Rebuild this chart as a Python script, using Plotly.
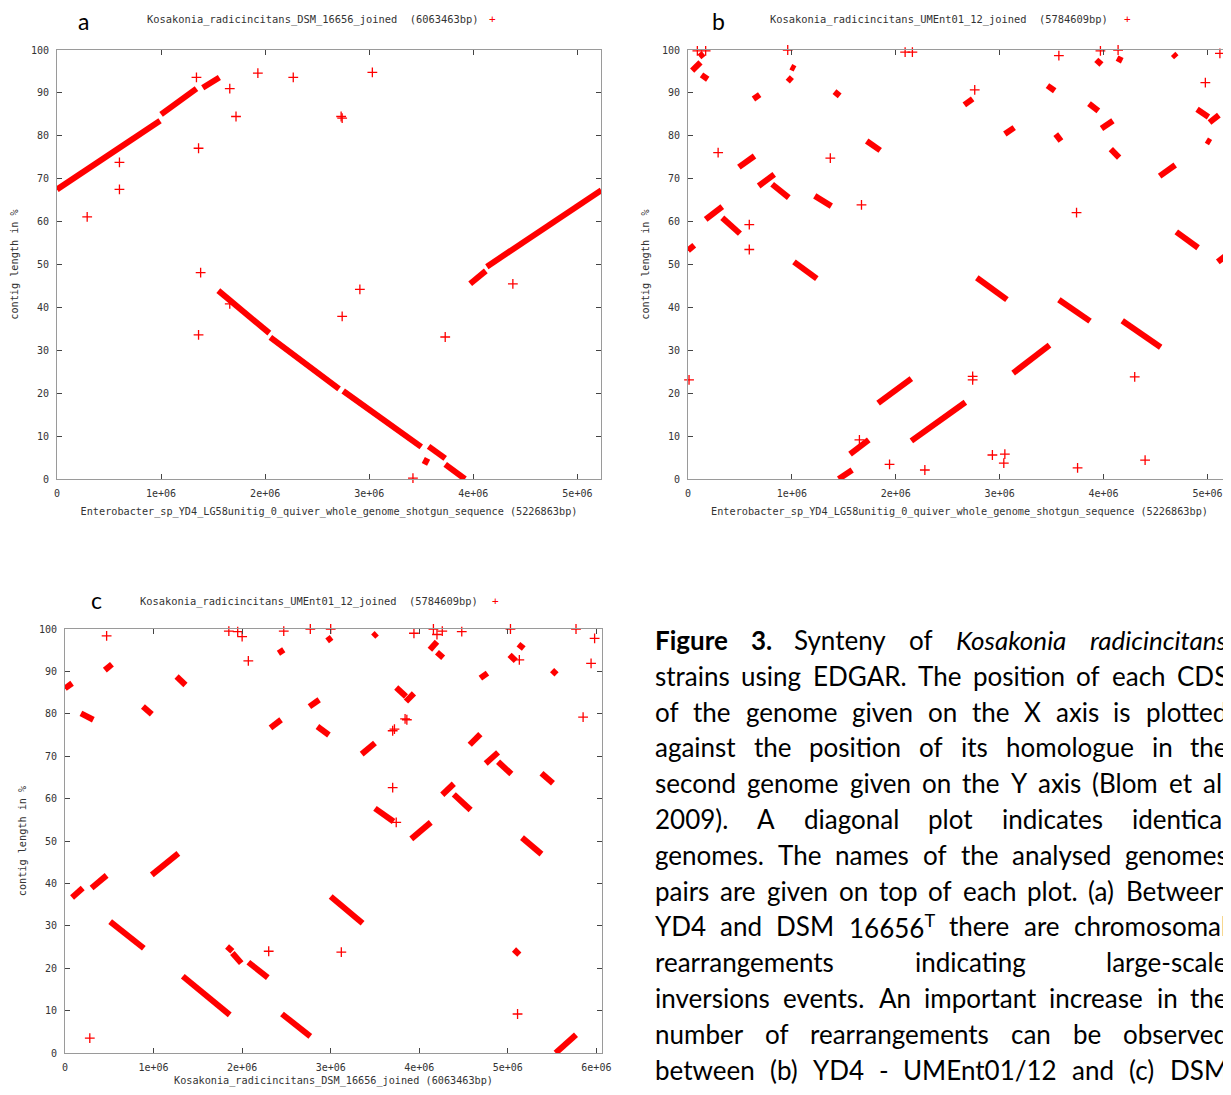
import os
import glob
import struct
import plotly.graph_objects as go

# The page body has an 8px margin, so the figure is drawn 8px in from the corner.
OFF = 8
W_REF, H_REF = 1231, 1095
W, H = W_REF - OFF, H_REF - 2 * OFF
MB = 1e6

# ---------------- DATA ----------------
x_tick_vals_ab = [0, 1e6, 2e6, 3e6, 4e6, 5e6]
x_tick_text_ab = ["0", "1e+06", "2e+06", "3e+06", "4e+06", "5e+06"]
x_tick_vals_c = [0, 1e6, 2e6, 3e6, 4e6, 5e6, 6e6]
x_tick_text_c = ["0", "1e+06", "2e+06", "3e+06", "4e+06", "5e+06", "6e+06"]
y_tick_vals = [0, 10, 20, 30, 40, 50, 60, 70, 80, 90, 100]

genome_yd4_len = 5226863
genome_dsm_len = 6063463
genome_um_len = 5784609

# Panel a: syntenic runs (x in Mbp, y in % of contig length)
a_seg_x0 = [0.00, 1.00, 1.40, 1.55, 2.05, 2.75, 3.57, 3.53, 3.73, 3.97, 4.13]
a_seg_y0 = [67.5, 85.0, 91.2, 43.9, 33.0, 20.5, 7.6, 3.4, 3.4, 45.5, 49.5]
a_seg_x1 = [0.99, 1.34, 1.56, 2.04, 2.71, 3.50, 3.73, 3.56, 3.92, 4.12, 5.23]
a_seg_y1 = [83.5, 91.0, 93.6, 34.0, 21.0, 7.5, 4.8, 4.8, 0.0, 48.5, 67.3]
# Panel a: isolated homologues
a_pt_x = [1.34, 1.66, 1.93, 2.27, 3.03, 1.72, 2.73, 2.74, 1.36, 0.60, 0.60, 0.29,
          1.38, 4.38, 2.91, 2.74, 1.36, 3.73, 3.42, 1.66]
a_pt_y = [93.6, 91.0, 94.6, 93.6, 94.8, 84.5, 84.5, 84.1, 77.1, 73.8, 67.5, 61.1,
          48.1, 45.5, 44.2, 37.9, 33.6, 33.1, 0.2, 40.8]

# Panel b
b_seg_x0 = [0.04, 0.11, 0.13, 0.63, 0.96, 0.99, 1.41, 2.66, 3.46, 3.05, 3.86, 3.98, 3.54,
            3.93, 4.13, 4.67, 4.90, 5.02, 4.99, 4.07, 4.54, 1.72, 0.49, 0.68, 0.81, 1.22,
            0.17, 0.33, 0.00, 1.02, 4.70, 5.10, 2.78, 3.57, 4.18, 3.13, 1.83, 2.15, 1.56, 1.45]
b_seg_y0 = [95.2, 98.4, 94.2, 88.6, 93.6, 96.1, 90.3, 87.2, 91.7, 80.4, 87.5, 81.7, 80.4,
            97.7, 98.1, 99.1, 86.2, 83.1, 79.0, 76.9, 70.6, 78.8, 72.7, 68.3, 68.7, 66.0,
            60.5, 60.9, 53.3, 50.6, 57.6, 50.6, 46.9, 41.8, 36.9, 24.7, 17.7, 8.9, 5.8, 0.0]
b_seg_x1 = [0.12, 0.15, 0.19, 0.69, 1.00, 1.03, 1.46, 2.74, 3.53, 3.14, 3.95, 4.09, 3.59,
            3.98, 4.18, 4.70, 5.01, 5.11, 5.03, 4.15, 4.69, 1.85, 0.64, 0.83, 0.97, 1.38,
            0.33, 0.50, 0.06, 1.24, 4.91, 5.23, 3.07, 3.87, 4.55, 3.48, 2.15, 2.67, 1.74, 1.58]
b_seg_y1 = [97.1, 99.2, 93.2, 89.6, 92.7, 95.6, 89.3, 88.6, 90.5, 81.9, 85.8, 83.5, 78.8,
            96.6, 97.5, 98.3, 84.4, 84.8, 78.4, 74.9, 73.2, 76.6, 75.3, 71.0, 65.6, 63.6,
            63.5, 57.2, 54.5, 46.7, 53.9, 53.1, 41.8, 36.8, 30.7, 31.2, 23.4, 17.9, 9.1, 2.1]
b_pt_x = [0.01, 0.29, 0.59, 0.59, 1.37, 1.67, 0.96, 2.09, 2.16, 2.76, 3.57, 3.97, 4.14,
          5.12, 4.98, 3.74, 4.30, 2.74, 2.74, 1.94, 2.28, 2.93, 3.05, 3.04, 3.75, 4.40,
          0.09, 0.17, 1.65]
b_pt_y = [23.1, 76.1, 59.3, 53.5, 74.8, 63.9, 100.0, 99.5, 99.5, 90.7, 98.7, 99.8, 100.0,
          99.2, 92.4, 62.1, 23.8, 23.9, 23.1, 3.4, 2.1, 5.6, 5.8, 3.7, 2.6, 4.4,
          99.8, 99.8, 9.1]

# Panel c
c_seg_x0 = [0.00, 0.45, 0.18, 0.88, 1.26, 2.41, 2.96, 3.48, 2.32, 2.76, 2.85, 3.35, 3.74,
            3.85, 4.12, 4.20, 4.69, 5.02, 5.12, 5.50, 4.57, 4.75, 4.89, 5.38, 4.26, 4.39,
            3.50, 3.91, 5.16, 0.98, 0.08, 0.30, 3.00, 0.51, 1.83, 1.89, 2.07, 5.07, 1.33,
            2.45, 5.54]
c_seg_y0 = [86.0, 90.3, 80.1, 81.7, 88.8, 94.3, 97.2, 98.2, 76.7, 81.7, 77.0, 70.5, 86.2,
            82.9, 95.1, 94.5, 88.4, 93.9, 96.4, 90.3, 72.7, 68.3, 68.7, 66.0, 60.9, 61.0,
            57.7, 50.5, 50.8, 42.0, 36.7, 38.9, 36.9, 31.0, 25.1, 23.6, 21.4, 24.4, 18.1,
            9.2, 0.0]
c_seg_x1 = [0.08, 0.53, 0.32, 0.98, 1.36, 2.47, 3.01, 3.52, 2.44, 2.87, 2.98, 3.50, 3.85,
            3.94, 4.20, 4.27, 4.77, 5.09, 5.18, 5.55, 4.69, 4.89, 5.04, 5.51, 4.39, 4.58,
            3.71, 4.13, 5.38, 1.28, 0.20, 0.47, 3.36, 0.89, 1.89, 1.99, 2.29, 5.13, 1.86,
            2.77, 5.77]
c_seg_y1 = [87.2, 91.7, 78.6, 79.9, 86.8, 95.1, 98.0, 99.0, 78.6, 83.3, 75.0, 73.1, 84.1,
            84.8, 97.0, 93.2, 89.6, 92.5, 95.4, 89.3, 75.2, 70.9, 65.8, 63.6, 63.5, 57.3,
            54.6, 54.4, 46.9, 47.1, 38.9, 41.9, 30.6, 24.7, 24.0, 21.2, 17.8, 23.2, 9.0,
            3.9, 4.3]
c_pt_x = [0.28, 0.47, 1.85, 1.95, 2.00, 2.07, 2.47, 2.77, 3.00, 3.94, 4.16, 4.26, 4.48,
          5.03, 5.77, 5.98, 5.94, 5.13, 5.85, 2.30, 3.12, 5.11, 3.84, 3.70, 3.70, 3.74,
          4.20, 3.86, 3.72]
c_pt_y = [3.5, 98.4, 99.5, 99.4, 98.2, 92.5, 99.5, 100.0, 100.0, 99.0, 100.0, 99.5, 99.4,
          100.0, 100.0, 97.8, 91.9, 92.7, 79.2, 24.0, 23.8, 9.2, 78.8, 76.0, 62.6, 54.4,
          98.7, 78.6, 76.4]

panel_letters = ["a", "b", "c"]
legend_names = [
    "Kosakonia_radicincitans_DSM_16656_joined  (6063463bp)",
    "Kosakonia_radicincitans_UMEnt01_12_joined  (5784609bp)",
    "Kosakonia_radicincitans_UMEnt01_12_joined  (5784609bp)",
]
x_titles = [
    "Enterobacter_sp_YD4_LG58unitig_0_quiver_whole_genome_shotgun_sequence (5226863bp)",
    "Enterobacter_sp_YD4_LG58unitig_0_quiver_whole_genome_shotgun_sequence (5226863bp)",
    "Kosakonia_radicincitans_DSM_16656_joined (6063463bp)",
]
y_title = "contig length in %"

caption_lines = [
    "<b>Figure</b> <b>3.</b> Synteny of <i>Kosakonia</i> <i>radicincitans</i>",
    "strains using EDGAR. The position of each CDS",
    "of the genome given on the X axis is plotted",
    "against the position of its homologue in the",
    "second genome given on the Y axis (Blom et al.",
    "2009). A diagonal plot indicates identical",
    "genomes. The names of the analysed genomes",
    "pairs are given on top of each plot. (a) Between",
    "YD4 and DSM 16656<sup>T</sup> there are chromosomal",
    "rearrangements indicating large-scale",
    "inversions events. An important increase in the",
    "number of rearrangements can be observed",
    "between (b) YD4 - UMEnt01/12 and (c) DSM",
]

# ---------------- font metrics for justified caption ----------------
FONT_ROOTS = ["/usr/share/fonts", "/usr/local/share/fonts",
              os.path.expanduser("~/.fonts"), os.path.expanduser("~/.local/share/fonts")]


def find_font(fname):
    for r in FONT_ROOTS:
        if os.path.isdir(r):
            hits = glob.glob(os.path.join(r, "**", fname), recursive=True)
            if hits:
                return hits[0]
    return None


def ttf_width_fn(path):
    with open(path, "rb") as f:
        data = f.read()
    base = struct.unpack(">I", data[12:16])[0] if data[:4] == b"ttcf" else 0
    num = struct.unpack(">H", data[base + 4:base + 6])[0]
    tabs = {}
    for i in range(num):
        rec = base + 12 + 16 * i
        tag = data[rec:rec + 4].decode("latin1")
        tabs[tag] = struct.unpack(">I", data[rec + 8:rec + 12])[0]
    upem = struct.unpack(">H", data[tabs["head"] + 18:tabs["head"] + 20])[0]
    nhm = struct.unpack(">H", data[tabs["hhea"] + 34:tabs["hhea"] + 36])[0]
    hm = tabs["hmtx"]
    adv = [struct.unpack(">H", data[hm + 4 * i:hm + 4 * i + 2])[0] for i in range(nhm)]
    cm = tabs["cmap"]
    nsub = struct.unpack(">H", data[cm + 2:cm + 4])[0]
    sub = None
    for i in range(nsub):
        pid, eid, so = struct.unpack(">HHI", data[cm + 4 + 8 * i:cm + 12 + 8 * i])
        fmt = struct.unpack(">H", data[cm + so:cm + so + 2])[0]
        if fmt == 4:
            sub = cm + so
            break
    segx2 = struct.unpack(">H", data[sub + 6:sub + 8])[0]
    seg = segx2 // 2
    ends = struct.unpack(">%dH" % seg, data[sub + 14:sub + 14 + segx2])
    starts = struct.unpack(">%dH" % seg, data[sub + 16 + segx2:sub + 16 + 2 * segx2])
    deltas = struct.unpack(">%dh" % seg, data[sub + 16 + 2 * segx2:sub + 16 + 3 * segx2])
    rpos = sub + 16 + 3 * segx2
    roffs = struct.unpack(">%dH" % seg, data[rpos:rpos + segx2])

    def gid(ch):
        c = ord(ch)
        for k in range(seg):
            if starts[k] <= c <= ends[k]:
                if roffs[k] == 0:
                    return (c + deltas[k]) & 0xFFFF
                addr = rpos + 2 * k + roffs[k] + 2 * (c - starts[k])
                g = struct.unpack(">H", data[addr:addr + 2])[0]
                return (g + deltas[k]) & 0xFFFF if g else 0
        return 0

    def width(s):
        return sum(adv[min(gid(ch), nhm - 1)] for ch in s) / upem

    return width


def fallback_width(s):
    return 0.5 * len(s)


CAPTION_FONT = "Lato"
width_fns = {}
for style, fname in [("", "Lato-Regular.ttf"), ("b", "Lato-Bold.ttf"), ("i", "Lato-Italic.ttf")]:
    fn = fallback_width
    p = find_font(fname)
    if p:
        try:
            fn = ttf_width_fn(p)
            fn("abc")
        except Exception:
            fn = fallback_width
    width_fns[style] = fn


def word_em(w):
    if w.startswith("<b>"):
        return width_fns["b"](w[3:-4])
    if w.startswith("<i>"):
        return width_fns["i"](w[3:-4])
    if "<sup>" in w:
        b, s = w.split("<sup>")
        return width_fns[""](b) + 0.7 * width_fns[""](s.replace("</sup>", ""))
    return width_fns[""](w)


# ---------------- helpers ----------------
MONO = "DejaVu Sans Mono"
RED = "#ff0000"


def px_x(px):
    return (px - OFF) / W


def px_y(py):
    return 1 - (py - OFF) / H


def seg_xy(x0, y0, x1, y1):
    xs, ys = [], []
    for a, b, c, d in zip(x0, y0, x1, y1):
        xs += [a * MB, c * MB, None]
        ys += [b, d, None]
    return xs, ys


fig = go.Figure()

panels = [
    ("x", "y", a_seg_x0, a_seg_y0, a_seg_x1, a_seg_y1, a_pt_x, a_pt_y),
    ("x2", "y2", b_seg_x0, b_seg_y0, b_seg_x1, b_seg_y1, b_pt_x, b_pt_y),
    ("x3", "y3", c_seg_x0, c_seg_y0, c_seg_x1, c_seg_y1, c_pt_x, c_pt_y),
]
for i, (xa, ya, sx0, sy0, sx1, sy1, ptx, pty) in enumerate(panels):
    sx, sy = seg_xy(sx0, sy0, sx1, sy1)
    fig.add_trace(go.Scatter(x=sx, y=sy, mode="lines", xaxis=xa, yaxis=ya,
                             line=dict(color=RED, width=6), name=legend_names[i],
                             showlegend=False, hoverinfo="skip"))
    fig.add_trace(go.Scatter(x=[v * MB for v in ptx], y=pty, mode="markers", xaxis=xa, yaxis=ya,
                             marker=dict(symbol="cross-thin", size=7,
                                         line=dict(color=RED, width=1.3)),
                             cliponaxis=False, name=legend_names[i], showlegend=False))

dom = {
    "a": dict(x=(57, 601), y=(479, 50)),
    "b": dict(x=(688, 1231), y=(479, 50)),
    "c": dict(x=(65, 602), y=(1053, 629)),
}

TICK_FONT = dict(family=MONO, size=10, color="#333")
TITLE_FONT = dict(family=MONO, size=10.2, color="#333")


def xaxis(d, rng, tv, tt, title, anchor, standoff):
    return dict(domain=[max(0.0, px_x(d["x"][0])), min(1.0, px_x(d["x"][1]))], range=rng,
                anchor=anchor, tickvals=tv, ticktext=tt,
                showgrid=False, zeroline=False, showline=True, linecolor="#9a9a9a",
                linewidth=1, mirror="allticks", ticks="inside", ticklen=5,
                tickcolor="#444", tickfont=TICK_FONT, ticklabelstandoff=5,
                title=dict(text=title, font=TITLE_FONT, standoff=standoff),
                automargin=False, fixedrange=True)


def yaxis(d, title, anchor):
    return dict(domain=[px_y(d["y"][0]), px_y(d["y"][1])], range=[0, 100], anchor=anchor,
                tickvals=y_tick_vals, showgrid=False, zeroline=False, showline=True,
                linecolor="#9a9a9a", linewidth=1, mirror="allticks", ticks="inside",
                ticklen=5, tickcolor="#444", tickfont=TICK_FONT, ticklabelstandoff=5,
                title=dict(text=title, font=TITLE_FONT, standoff=10),
                automargin=False, fixedrange=True)


b_range_max = genome_yd4_len * (W_REF - dom["b"]["x"][0]) / (dom["b"]["x"][1] - dom["b"]["x"][0])

fig.update_layout(
    width=W, height=H, margin=dict(l=0, r=0, t=0, b=0),
    paper_bgcolor="white", plot_bgcolor="white", showlegend=False,
    xaxis=xaxis(dom["a"], [0, genome_yd4_len], x_tick_vals_ab, x_tick_text_ab, x_titles[0], "y", 9),
    yaxis=yaxis(dom["a"], y_title, "x"),
    xaxis2=xaxis(dom["b"], [0, b_range_max], x_tick_vals_ab, x_tick_text_ab, x_titles[1], "y2", 9),
    yaxis2=yaxis(dom["b"], y_title, "x2"),
    xaxis3=xaxis(dom["c"], [0, genome_dsm_len], x_tick_vals_c, x_tick_text_c, x_titles[2], "y3", 17),
    yaxis3=yaxis(dom["c"], y_title, "x3"),
)

annotations = []


def ann(text, px, py, size, family, color="#000", xanchor="left"):
    annotations.append(dict(text=text, x=px_x(px), y=px_y(py), xref="paper", yref="paper",
                            showarrow=False, xanchor=xanchor, yanchor="middle",
                            font=dict(size=size, family=family, color=color),
                            borderpad=0, borderwidth=0))


for letter, (lx, ly) in zip(panel_letters, [(83, 21), (718, 21), (96, 600)]):
    ann(letter, lx, ly, 23, CAPTION_FONT, xanchor="center")

for name, (tx, ty, sx) in zip(legend_names, [(479, 20, 492), (1108, 20, 1127), (478, 601, 495)]):
    ann(name, tx, ty, 10.4, MONO, color="#333", xanchor="right")
    ann("+", sx, ty, 11, MONO, color=RED, xanchor="center")

# justified caption: first word at the left edge, last word at the right edge
CAP_LEFT, CAP_RIGHT = 655, 1228
cap_w = CAP_RIGHT - CAP_LEFT
space_em = width_fns[""](" ") or 0.2
cap_size = 26.0
for line in caption_lines:
    words = line.split(" ")
    nat = sum(word_em(w) for w in words) + space_em * (len(words) - 1)
    cap_size = min(cap_size, cap_w / nat)

for li, line in enumerate(caption_lines):
    cy = 640 + li * 35.8
    words = line.split(" ")
    widths = [word_em(w) * cap_size for w in words]
    gap = (cap_w - sum(widths)) / max(1, len(words) - 1)
    x = CAP_LEFT
    for w, ww in zip(words, widths):
        ann(w, x, cy, cap_size, CAPTION_FONT)
        x += ww + gap

fig.update_layout(annotations=annotations)
fig.write_html("out.html")
